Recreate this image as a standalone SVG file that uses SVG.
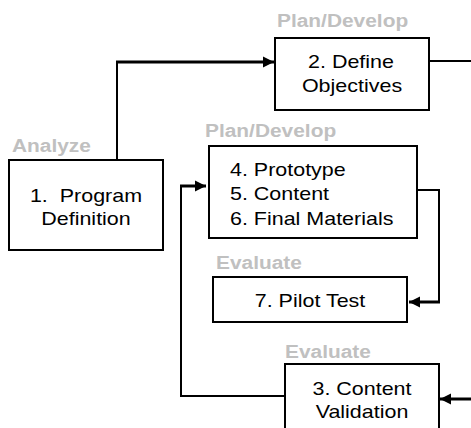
<svg xmlns="http://www.w3.org/2000/svg" width="471" height="428" viewBox="0 0 471 428">
<defs>
<style>
.box{fill:#fff;stroke:#000;stroke-width:2}
.t{font-family:"Liberation Sans",Arial,sans-serif;font-size:19px;fill:#000}
.c{text-anchor:middle}
.lbl{font-family:"Liberation Sans",Arial,sans-serif;font-size:18.5px;font-weight:bold;fill:#c0c0c0}
.ln{fill:none;stroke:#000;stroke-width:2}
.th{fill:none;stroke:#000;stroke-width:3}
</style>
<marker id="ah" markerUnits="userSpaceOnUse" markerWidth="13" markerHeight="12" viewBox="0 0 13 12" refX="12" refY="6" orient="auto">
<path d="M1,0.5 L12,6 L1,11.5 Z" fill="#000"/>
</marker>
</defs>
<rect width="471" height="428" fill="#fff"/>
<g id="connectors">
<path class="ln" d="M117,160 V62"/>
<path class="th" d="M116,62 H274" marker-end="url(#ah)"/>
<path class="ln" d="M429,61 H471" stroke-width="1.5"/>
<path class="ln" d="M417,190 H439 V302"/>
<path class="th" d="M440,302 H409" marker-end="url(#ah)"/>
<path class="th" d="M471,399 H440" marker-end="url(#ah)"/>
<path class="ln" d="M285,396 H181 V186"/>
<path class="th" d="M180,186 H206" marker-end="url(#ah)"/>
</g>
<g id="node1">
<text class="lbl" transform="translate(12,152) scale(1.13,1)">Analyze</text>
<rect class="box" x="9" y="160" width="154" height="90"/>
<text class="t c" transform="translate(86,202) scale(1.13,1)">1.&#160; Program</text>
<text class="t c" transform="translate(86,225) scale(1.13,1)">Definition</text>
</g>
<g id="node2">
<text class="lbl" transform="translate(277,27) scale(1.13,1)">Plan/Develop</text>
<rect class="box" x="275" y="38" width="154" height="72"/>
<text class="t c" transform="translate(351,68) scale(1.13,1)">2. Define</text>
<text class="t c" transform="translate(352,92) scale(1.13,1)">Objectives</text>
</g>
<g id="node4">
<text class="lbl" transform="translate(205,137) scale(1.13,1)">Plan/Develop</text>
<rect class="box" x="209" y="146" width="208" height="92"/>
<text class="t" transform="translate(230,176) scale(1.13,1)">4. Prototype</text>
<text class="t" transform="translate(230,200) scale(1.13,1)">5. Content</text>
<text class="t" transform="translate(230,225) scale(1.13,1)">6. Final Materials</text>
</g>
<g id="node7">
<text class="lbl" transform="translate(216,269) scale(1.13,1)">Evaluate</text>
<rect class="box" x="213" y="277" width="194" height="45"/>
<text class="t c" transform="translate(310,307) scale(1.13,1)">7. Pilot Test</text>
</g>
<g id="node3">
<text class="lbl" transform="translate(285,358) scale(1.13,1)">Evaluate</text>
<rect class="box" x="285" y="364" width="154" height="80"/>
<text class="t c" transform="translate(362,395) scale(1.13,1)">3. Content</text>
<text class="t c" transform="translate(362,418) scale(1.13,1)">Validation</text>
</g>
</svg>
